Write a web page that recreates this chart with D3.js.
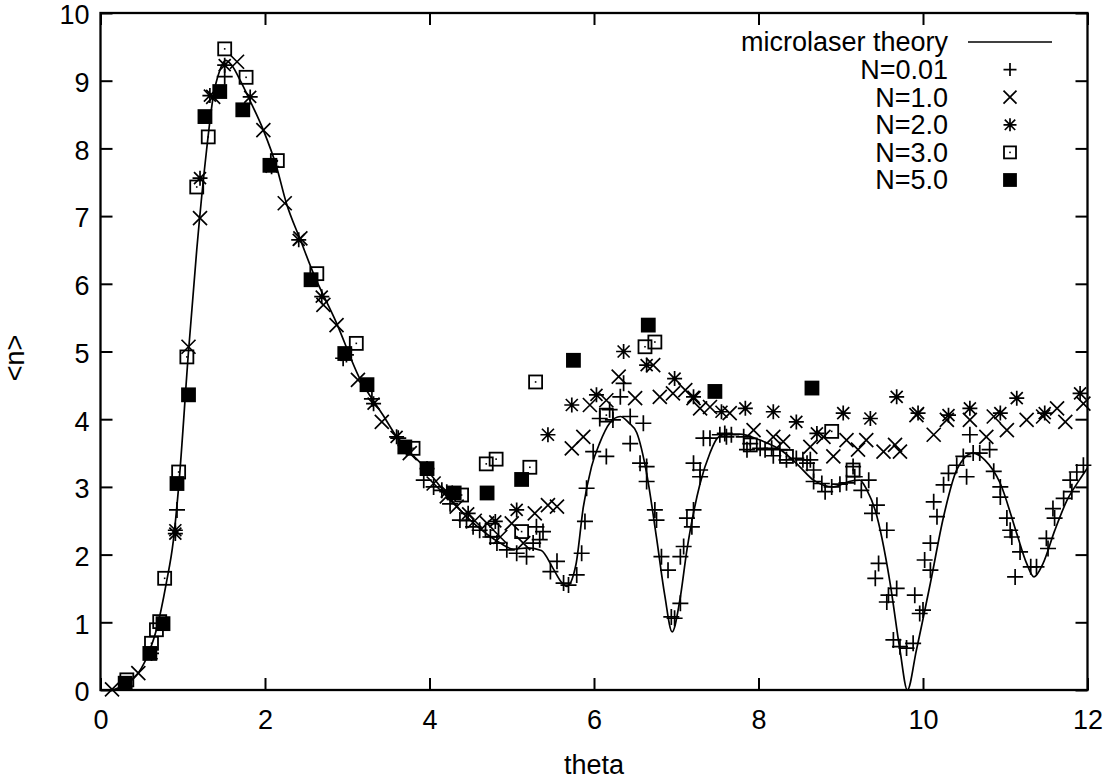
<!DOCTYPE html>
<meta charset="utf-8">
<style>
body { margin: 0; background: #fff; }
svg { display: block; font-family: "Liberation Sans", Arial, Helvetica, sans-serif; }
</style>
<script src="https://d3js.org/d3.v7.min.js"></script>
<svg width="1110" height="782"></svg>
<script>

// [theta, <n>]
var theory = [[0.15,0],[0.3,0.08],[0.46,0.25],[0.6,0.59],[0.68,0.89],[0.8,1.58],[0.885,2.2],[0.95,3.0],[1.07,5.0],[1.17,6.5],
  [1.29,7.98],[1.37,8.76],[1.45,9.15],[1.52,9.3],[1.6,9.22],[1.7,9.0],[1.82,8.7],[1.98,8.27],[2.14,7.73],[2.26,7.19],
  [2.43,6.65],[2.59,6.15],[2.87,5.42],[3.14,4.63],[3.44,4.05],[3.6,3.74],[3.97,3.25],[4.2,2.9],[4.45,2.56],[4.7,2.3],
  [4.86,2.17],[5.02,2.08],[5.2,2.1],[5.36,2.06],[5.5,1.8],[5.6,1.6],[5.67,1.53],[5.78,1.85],[5.87,2.7],[5.97,3.3],
  [6.07,3.65],[6.19,3.94],[6.32,4.04],[6.42,3.95],[6.52,3.8],[6.64,3.2],[6.76,2.25],[6.86,1.4],[6.95,0.86],[7.04,1.3],
  [7.13,2.07],[7.29,3.05],[7.41,3.5],[7.5,3.72],[7.6,3.78],[7.77,3.78],[8.0,3.7],[8.3,3.52],[8.5,3.3],[8.67,3.1],
  [8.91,3.0],[9.1,3.08],[9.23,3.1],[9.32,2.95],[9.42,2.65],[9.6,1.58],[9.72,0.59],[9.81,0],[9.92,0.59],[10.09,1.58],
  [10.25,2.56],[10.41,3.25],[10.61,3.5],[10.75,3.4],[10.94,3.05],[11.14,2.31],[11.26,1.87],[11.35,1.67],[11.46,1.87],
  [11.6,2.35],[11.75,2.8],[11.9,3.1],[12.0,3.28]];

var n001 = [[0.93,2.66],[1.51,9.06],[2.95,4.9],[3.3,4.3],[3.62,3.72],[3.93,3.10],[4.05,3.0],[4.15,2.95],[4.25,2.75],[4.37,2.51],
  [4.45,2.5],[4.53,2.41],[4.61,2.36],[4.74,2.26],[4.82,2.17],[4.94,2.07],[5.06,2.02],[5.18,1.97],[5.26,2.17],[5.34,2.22],
  [5.30,2.41],[5.38,2.34],[5.55,1.90],[5.47,1.75],[5.63,1.58],[5.69,1.55],[5.79,1.70],[5.85,2.02],[5.89,2.49],[5.91,2.98],
  [5.99,3.52],[6.15,3.45],[6.07,4.01],[6.19,4.14],[6.23,3.99],[6.32,4.33],[6.36,4.53],[6.44,4.04],[6.60,3.94],[6.44,3.64],
  [6.56,3.35],[6.64,3.30],[6.64,3.08],[6.74,2.66],[6.76,2.51],[6.82,1.97],[6.90,1.77],[6.94,1.08],[6.98,1.06],[7.05,1.28],
  [7.05,1.97],[7.09,2.12],[7.13,2.54],[7.19,2.41],[7.21,2.66],[7.21,3.35],[7.29,3.15],[7.29,3.25],[7.33,3.72],[7.41,3.72],
  [7.53,3.77],[7.59,3.79],[7.61,3.74],[7.67,3.77],[7.82,3.74],[7.86,3.55],[7.90,3.64],[8.02,3.57],[8.08,3.55],[8.16,3.57],
  [8.18,3.46],[8.26,3.55],[8.34,3.40],[8.46,3.42],[8.54,3.40],[8.59,3.35],[8.63,3.40],[8.67,3.25],[8.67,3.08],[8.77,3.05],
  [8.81,2.93],[8.89,3.0],[8.99,3.04],[9.07,3.06],[9.15,3.30],[9.17,3.15],[9.25,2.95],[9.34,3.10],[9.38,2.61],[9.44,2.73],
  [9.56,2.36],[9.46,1.87],[9.42,1.65],[9.68,1.50],[9.58,1.40],[9.56,1.30],[9.64,0.74],[9.72,0.64],[9.80,0.62],[9.88,0.69],
  [9.90,1.40],[9.96,1.13],[10.0,1.18],[10.02,1.92],[10.09,1.77],[10.09,2.17],[10.13,2.78],[10.17,2.56],[10.25,3.03],[10.31,3.20],
  [10.41,3.32],[10.49,3.45],[10.53,3.15],[10.57,3.77],[10.61,3.50],[10.69,3.50],[10.81,3.55],[10.86,3.23],[10.94,3.0],[10.94,2.85],
  [11.02,2.54],[11.06,2.36],[11.08,2.26],[11.18,2.04],[11.12,1.67],[11.31,1.82],[11.38,1.82],[11.50,2.24],[11.52,2.09],[11.58,2.68],
  [11.60,2.54],[11.71,2.83],[11.79,3.10],[11.81,2.93],[11.87,3.22],[11.95,3.32]];

var n10 = [[0.14,0.01],[0.46,0.25],[1.07,5.07],[1.21,6.97],[1.37,8.76],[1.66,9.28],[1.98,8.27],[2.24,7.19],[2.43,6.67],[2.71,5.69],
  [2.87,5.39],[3.13,4.58],[3.42,3.96],[3.76,3.50],[4.05,3.05],[4.21,2.86],[4.33,2.71],[4.55,2.5],[4.70,2.46],[4.86,2.26],
  [5.00,2.46],[5.14,2.17],[5.28,2.61],[5.44,2.73],[5.55,2.71],[5.73,3.57],[5.87,3.74],[5.95,4.21],[6.15,4.28],[6.30,4.63],
  [6.50,4.31],[6.72,4.80],[6.80,4.33],[6.96,4.38],[7.11,4.43],[7.21,4.31],[7.29,4.16],[7.41,4.18],[7.65,4.09],[7.94,3.84],
  [8.18,3.74],[8.30,3.67],[8.63,3.59],[8.79,3.74],[8.91,3.45],[9.07,3.69],[9.21,3.55],[9.31,3.69],[9.52,3.52],[9.66,3.62],
  [9.72,3.52],[9.92,4.06],[10.13,3.77],[10.29,3.99],[10.57,3.99],[10.77,3.74],[10.86,4.04],[11.02,3.84],[11.26,3.99],[11.46,4.04],
  [11.63,4.16],[11.73,3.96],[11.95,4.23]];

var n20 = [[0.62,0.54],[0.91,2.31],[0.91,2.36],[1.21,7.56],[1.33,8.78],[1.51,9.23],[1.82,8.76],[2.08,7.73],[2.41,6.65],[2.69,5.81],
  [2.99,4.95],[3.32,4.23],[3.60,3.74],[3.97,3.27],[4.21,2.93],[4.47,2.61],[4.80,2.49],[5.06,2.66],[5.44,3.77],[5.73,4.21],
  [6.03,4.36],[6.36,5.00],[6.64,4.80],[6.98,4.60],[7.21,4.33],[7.55,4.11],[7.84,4.16],[8.18,4.11],[8.46,3.96],[8.71,3.79],
  [9.03,4.09],[9.36,4.01],[9.68,4.33],[9.94,4.09],[10.31,4.06],[10.57,4.16],[10.94,4.09],[11.14,4.31],[11.48,4.09],[11.91,4.38]];

var n30 = [[0.32,0.15],[0.62,0.69],[0.68,0.89],[0.72,1.01],[0.78,1.65],[0.95,3.22],[1.05,4.92],[1.17,7.43],[1.31,8.17],[1.51,9.47],
  [1.77,9.05],[2.15,7.82],[2.63,6.15],[3.11,5.12],[3.80,3.57],[4.39,2.88],[4.69,3.34],[4.81,3.41],[4.76,2.36],[5.12,2.34],
  [5.22,3.29],[5.29,4.55],[6.15,4.06],[6.62,5.07],[6.74,5.14],[7.90,3.62],[8.34,3.45],[8.89,3.82],[9.15,3.25]];

var n50 = [[0.30,0.10],[0.60,0.54],[0.76,0.98],[0.93,3.05],[1.07,4.36],[1.27,8.47],[1.45,8.84],[1.73,8.57],[2.06,7.75],[2.56,6.06],
  [2.97,4.97],[3.24,4.51],[3.70,3.59],[3.97,3.27],[4.30,2.91],[4.70,2.91],[5.12,3.11],[5.75,4.87],[6.66,5.39],[7.47,4.41],[8.65,4.46]];

var xTicks = [0, 2, 4, 6, 8, 10, 12];
var yTicks = [0, 1, 2, 3, 4, 5, 6, 7, 8, 9, 10];
var legendLabels = ["microlaser theory", "N=0.01", "N=1.0", "N=2.0", "N=3.0", "N=5.0"];

var svg = d3.select("svg");

var x = d3.scaleLinear().domain([0, 12]).range([100.5, 1087.5]);
var y = d3.scaleLinear().domain([0, 10]).range([690, 13]);

// axes, ticks pointing inward on all four sides
function styleAxis(g) {
  g.select(".domain").remove();
  g.selectAll(".tick line").attr("stroke", "#000").attr("stroke-width", 2);
  g.selectAll(".tick text").attr("fill", "#000").style("font-size", "27px")
    .style("font-family", '"Liberation Sans", Arial, Helvetica, sans-serif');
}

svg.append("g").attr("transform", "translate(0,690)")
  .call(d3.axisBottom(x).tickValues(xTicks).tickSizeInner(-12).tickSizeOuter(0).tickPadding(20))
  .call(styleAxis);
svg.append("g").attr("transform", "translate(0,13)")
  .call(d3.axisTop(x).tickValues(xTicks).tickSizeInner(-12).tickSizeOuter(0).tickFormat(""))
  .call(styleAxis);
svg.append("g").attr("transform", "translate(100.5,0)")
  .call(d3.axisLeft(y).tickValues(yTicks).tickSizeInner(-12).tickSizeOuter(0).tickPadding(11))
  .call(styleAxis)
  .selectAll(".tick text").attr("dy", "0.4em");
svg.append("g").attr("transform", "translate(1087.5,0)")
  .call(d3.axisRight(y).tickValues(yTicks).tickSizeInner(-12).tickSizeOuter(0).tickFormat(""))
  .call(styleAxis);

svg.append("rect")
  .attr("x", x(0)).attr("y", y(10))
  .attr("width", x(12) - x(0)).attr("height", y(0) - y(10))
  .attr("fill", "none").attr("stroke", "#000").attr("stroke-width", 2.3);

svg.append("text").attr("x", (x(0) + x(12)) / 2).attr("y", 774)
  .attr("text-anchor", "middle").style("font-size", "27px").text("theta");
svg.append("text").attr("transform", "translate(24,358) rotate(-90)")
  .attr("text-anchor", "middle").style("font-size", "27px").text("<n>");

// theory curve
var line = d3.line().x(function(d) { return x(d[0]); }).y(function(d) { return y(d[1]); })
  .curve(d3.curveMonotoneX);
svg.append("path").datum(theory)
  .attr("d", line).attr("fill", "none").attr("stroke", "#000").attr("stroke-width", 1.7);

// point markers (gnuplot style)
function markerPath(type, cx, cy, s) {
  var h = s / 2, p = "";
  if (type == "plus" || type == "star")
    p += "M" + (cx - h) + "," + cy + "H" + (cx + h) + "M" + cx + "," + (cy - h) + "V" + (cy + h);
  if (type == "cross" || type == "star") {
    var k = type == "star" ? h * 0.8 : h;
    p += "M" + (cx - k) + "," + (cy - k) + "L" + (cx + k) + "," + (cy + k) +
         "M" + (cx - k) + "," + (cy + k) + "L" + (cx + k) + "," + (cy - k);
  }
  return p;
}

function drawPoint(g, type, cx, cy, s) {
  if (type == "box" || type == "fbox") {
    g.append("rect").attr("x", cx - s / 2).attr("y", cy - s / 2).attr("width", s).attr("height", s)
      .attr("fill", type == "fbox" ? "#000" : "none").attr("stroke", "#000").attr("stroke-width", 1.8);
    if (type == "box")
      g.append("rect").attr("x", cx - 0.8).attr("y", cy - 0.8).attr("width", 1.6).attr("height", 1.6).attr("fill", "#000");
  } else {
    g.append("path").attr("d", markerPath(type, cx, cy, s))
      .attr("fill", "none").attr("stroke", "#000").attr("stroke-width", 1.7);
  }
}

var series = [
  {data: n001, type: "plus", size: 16},
  {data: n10, type: "cross", size: 14},
  {data: n20, type: "star", size: 15},
  {data: n30, type: "box", size: 13},
  {data: n50, type: "fbox", size: 13}
];

series.forEach(function(s) {
  var g = svg.append("g");
  s.data.forEach(function(d) { drawPoint(g, s.type, x(d[0]), y(d[1]), s.size); });
});

// legend
var leg = svg.append("g");
legendLabels.forEach(function(t, i) {
  var ly = 42 + i * 27.6;
  leg.append("text").attr("x", 948).attr("y", ly).attr("dy", "0.35em")
    .attr("text-anchor", "end").style("font-size", "27px").text(t);
  if (i == 0) {
    leg.append("line").attr("x1", 968).attr("x2", 1052).attr("y1", ly).attr("y2", ly)
      .attr("stroke", "#000").attr("stroke-width", 1.5);
  } else {
    drawPoint(leg, series[i - 1].type, 1010, ly, series[i - 1].type.indexOf("box") >= 0 ? 12 : 13);
  }
});
</script>
